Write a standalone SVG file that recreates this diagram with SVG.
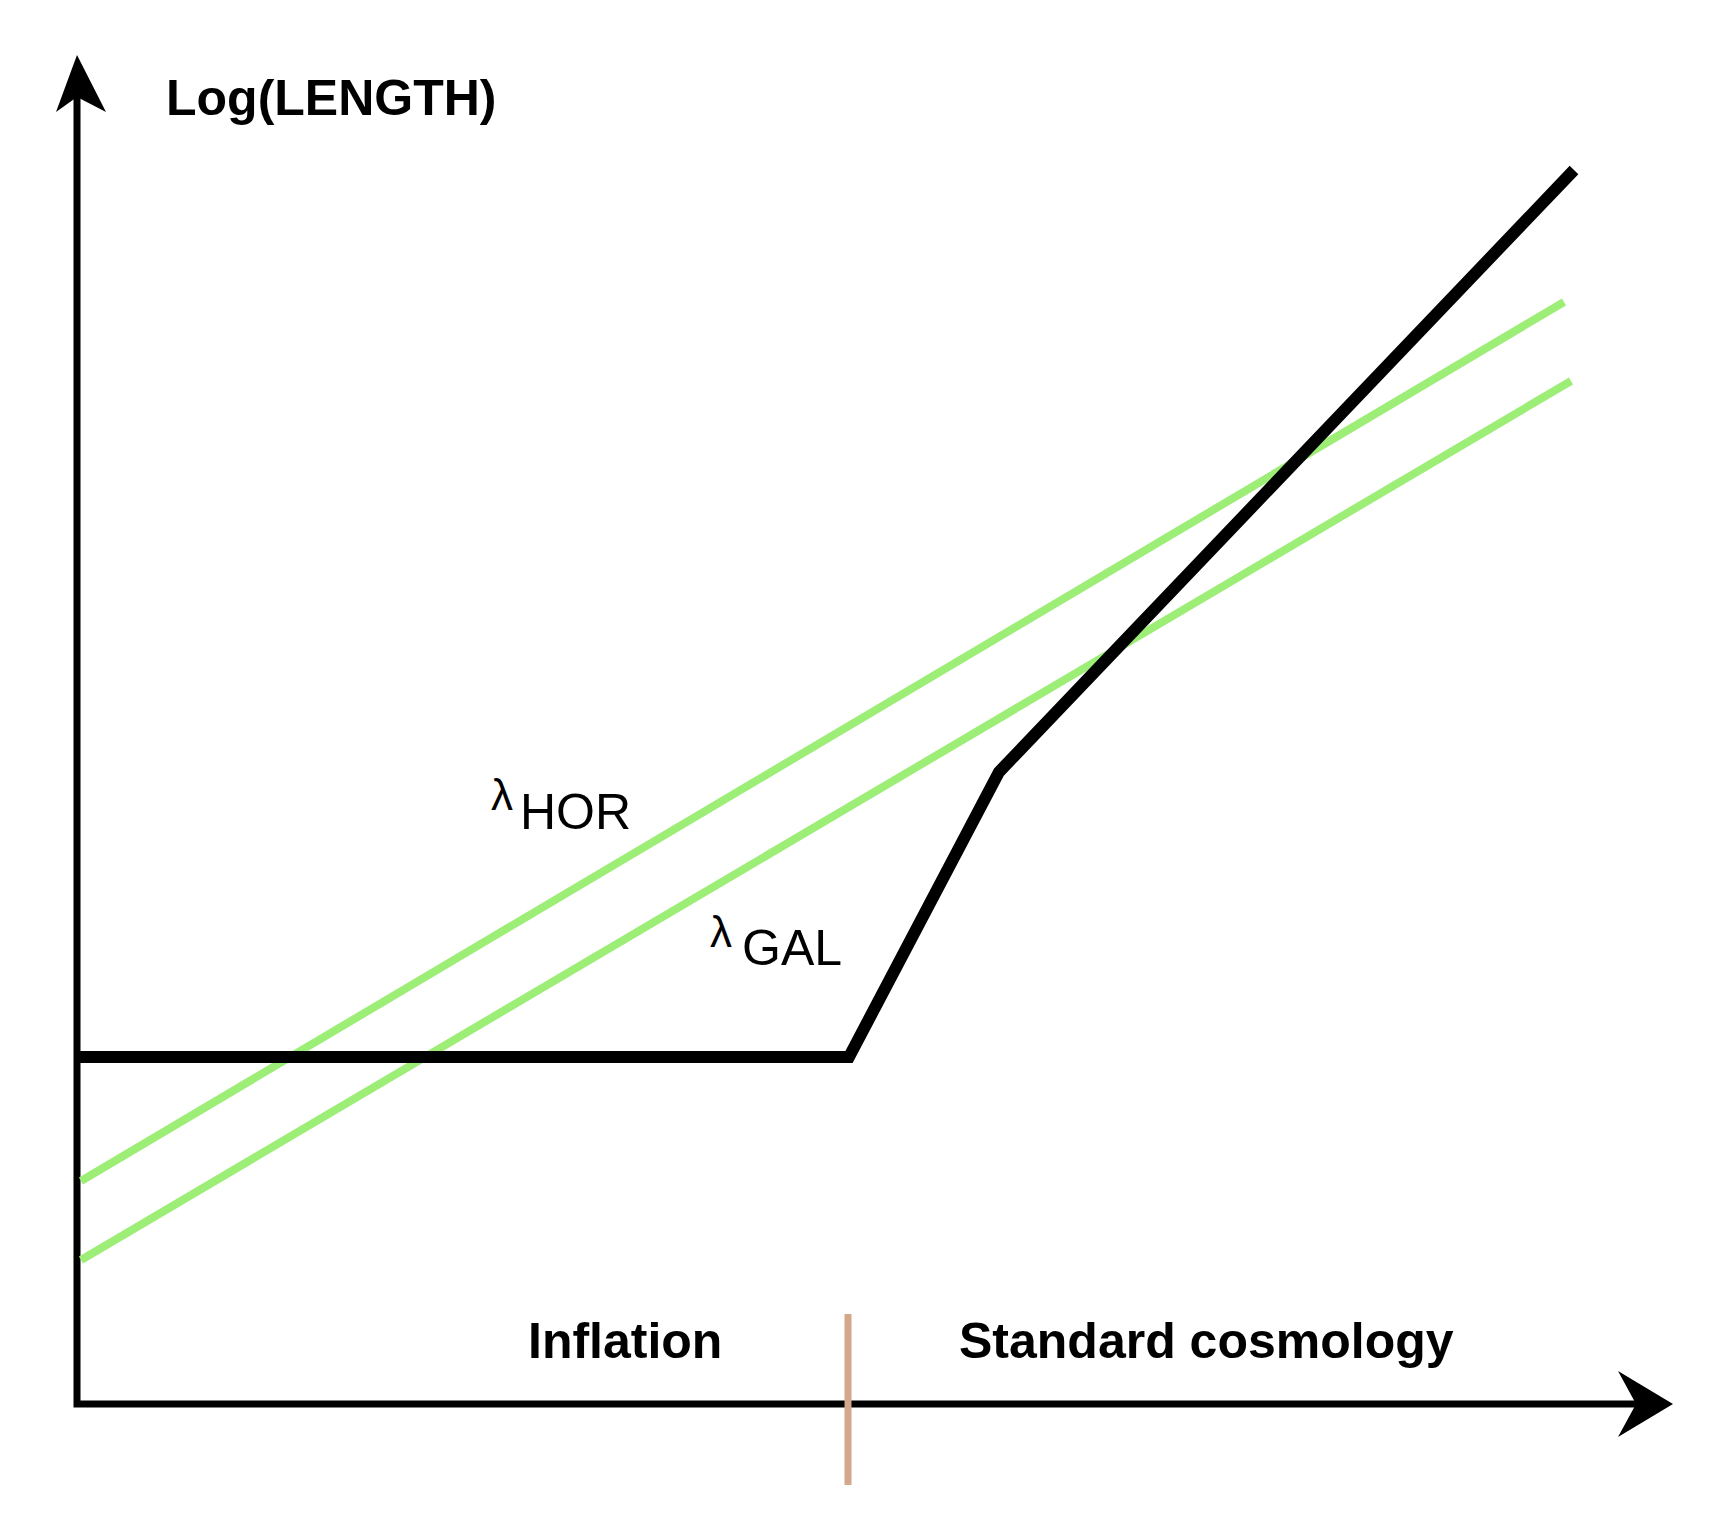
<svg xmlns="http://www.w3.org/2000/svg" width="1717" height="1516" viewBox="0 0 1717 1516">
<style>
.axis{fill:none;stroke:#000;stroke-width:7}
.curve{fill:none;stroke:#000;stroke-width:12;stroke-linejoin:miter}
.green{fill:none;stroke:#9cee76;stroke-width:8}
.tan{stroke:#d4a68a;stroke-width:7}
.bold{font-family:"Liberation Sans",Arial,sans-serif;font-weight:bold;font-size:50px;fill:#000}
.reg{font-family:"Liberation Sans",Arial,sans-serif;font-size:50px;fill:#000}
.lam{font-family:"Liberation Sans",Arial,sans-serif;font-size:44px;fill:#000}
</style>
<rect width="1717" height="1516" fill="#fff"/>
<g id="connectors">
<polyline class="axis" points="77,95 77,1404 1640,1404"/>
<polygon points="77,55 106,112 77,97 56,112" fill="#000"/>
<polygon points="1673,1404 1618,1371 1636,1404 1618,1437" fill="#000"/>
<line class="green" x1="81" y1="1181" x2="1564" y2="302"/>
<line class="green" x1="81" y1="1260" x2="1571" y2="381"/>
<polyline class="curve" points="77,1057 849,1057 999,772 1574,170"/>
<line class="tan" x1="848" y1="1314" x2="848" y2="1485"/>
</g>
<g id="label-y"><text class="bold" x="166" y="115">Log(LENGTH)</text></g>
<g id="label-hor"><text class="lam" x="491" y="810">λ</text><text class="reg" x="520" y="829">HOR</text></g>
<g id="label-gal"><text class="lam" x="710" y="947">λ</text><text class="reg" x="742" y="965">GAL</text></g>
<g id="label-inflation"><text class="bold" x="528" y="1358">Inflation</text></g>
<g id="label-standard"><text class="bold" x="959" y="1358">Standard cosmology</text></g>
</svg>
